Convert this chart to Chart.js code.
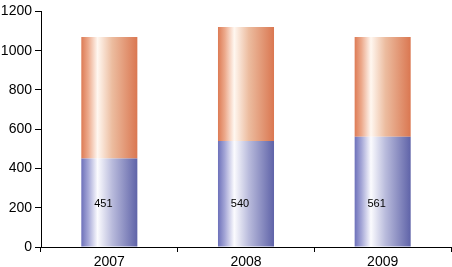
<!DOCTYPE html>
<html>
<head>
<meta charset="utf-8">
<script src="https://cdn.jsdelivr.net/npm/chart.js@4/dist/chart.umd.min.js"></script>
<style>
html,body{margin:0;padding:0;background:#fff;}
#wrap{width:452px;height:267px;position:relative;}
</style>
</head>
<body>
<div id="wrap"><canvas id="c" width="452" height="267"></canvas></div>
<script>
const categories = ['2007', '2008', '2009'];
const lowerValues = [451, 540, 561];
const upperValues = [619, 580, 509];
const yTicks = [0, 200, 400, 600, 800, 1000, 1200];

const FONT = '"Liberation Sans", Arial, sans-serif';
const BAR_PCT = 0.41;
const LABEL_LEVEL = 218;

function barGradient(stops) {
  return function (ctx) {
    const chart = ctx.chart;
    const area = chart.chartArea;
    if (!area) return stops[0][1];
    const xs = chart.scales.x;
    const cx = xs.getPixelForValue(ctx.dataIndex);
    const w = (xs.width / categories.length) * BAR_PCT;
    const g = chart.ctx.createLinearGradient(cx - w / 2, 0, cx + w / 2, 0);
    stops.forEach(s => g.addColorStop(s[0], s[1]));
    return g;
  };
}

const blueStops = [[0, '#6d71ba'], [0.12, '#a3a5d6'], [0.29, '#fbfbfe'], [0.55, '#b9bbdc'], [1, '#5f63a8']];
const orangeStops = [[0, '#dd7b55'], [0.12, '#eca88a'], [0.29, '#fff7f0'], [0.55, '#ecbc9f'], [1, '#da7751']];

const labelPlugin = {
  id: 'lowerLabels',
  afterDatasetsDraw(chart) {
    const meta = chart.getDatasetMeta(0);
    const c = chart.ctx;
    const y = chart.scales.y.getPixelForValue(LABEL_LEVEL);
    c.save();
    c.font = '11px ' + FONT;
    c.fillStyle = '#000';
    c.textAlign = 'center';
    c.textBaseline = 'middle';
    meta.data.forEach((el, i) => {
      c.fillText(String(lowerValues[i]), el.x - 6, y);
    });
    c.restore();
  }
};

new Chart(document.getElementById('c'), {
  type: 'bar',
  data: {
    labels: categories,
    datasets: [
      { data: lowerValues, backgroundColor: barGradient(blueStops), borderWidth: 0, categoryPercentage: 1, barPercentage: BAR_PCT },
      { data: upperValues, backgroundColor: barGradient(orangeStops), borderWidth: 0, categoryPercentage: 1, barPercentage: BAR_PCT }
    ]
  },
  options: {
    responsive: false,
    animation: false,
    devicePixelRatio: 1,
    layout: { padding: { top: 9, right: 1, left: 0, bottom: 0 } },
    plugins: { legend: { display: false }, tooltip: { enabled: false } },
    scales: {
      x: {
        stacked: true,
        grid: { display: true, drawOnChartArea: false, drawTicks: true, tickLength: 5, color: '#000', offset: true },
        border: { display: true, color: '#000', width: 1 },
        ticks: { color: '#000', font: { family: FONT, size: 14 }, padding: 2, maxRotation: 0 },
        afterFit(s) { s.height = 20; }
      },
      y: {
        stacked: true,
        min: 0,
        max: 1200,
        afterBuildTicks(s) { s.ticks = yTicks.map(v => ({ value: v })); },
        grid: { display: true, drawOnChartArea: false, drawTicks: true, tickLength: 6, color: '#000' },
        border: { display: true, color: '#000', width: 1 },
        ticks: { color: '#000', font: { family: FONT, size: 14 }, padding: 3, callback: v => String(v) },
        afterFit(s) { s.width = 41; }
      }
    }
  },
  plugins: [labelPlugin]
});
</script>
</body>
</html>
